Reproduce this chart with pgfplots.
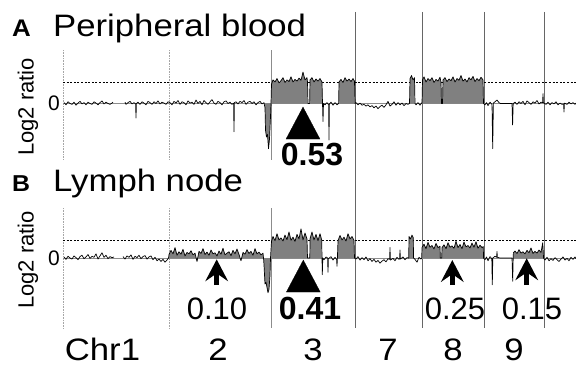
\documentclass[border=0pt]{standalone}
\usepackage{pgfplots}
\pgfplotsset{compat=1.18}
\usepackage{pgfplotstable}
\usepackage{graphicx}
\usepackage{fontspec}
\setmainfont{Liberation Sans}
\usetikzlibrary{arrows.meta}

% Panel A trace (x = genome position in plot units, y = log2 ratio)
\pgfplotstableread{
x y
64 0.02
66 -0.03
68 0.04
70 0.00
72 -0.02
74 0.03
76 -0.04
78 0.01
80 0.05
82 -0.01
84 0.02
86 -0.03
88 0.03
90 0.00
92 -0.02
94 0.04
96 0.01
98 -0.03
100 0.02
102 0.06
104 -0.01
106 0.03
108 0.00
110 -0.02
112 0.01
113 0.03
118 nan
125 0.03
126 -0.02
128 0.02
130 0.05
132 -0.01
134 0.02
135.6 -0.01
136 -0.34
136.4 0.00
138 0.03
140 -0.02
142 0.04
144 0.01
146 -0.03
148 0.05
150 0.02
152 -0.02
154 0.04
156 0.00
158 0.06
160 -0.01
162 0.03
164 0.01
166 -0.02
168 0.04
170 0.02
172 -0.03
174 0.05
176 0.01
178 0.07
180 -0.02
182 0.04
184 0.02
186 -0.03
188 0.06
190 0.01
192 0.03
194 -0.02
196 0.08
198 0.00
200 0.05
202 -0.03
204 0.07
206 0.02
208 -0.02
210 0.04
212 0.09
214 0.01
216 -0.02
218 0.05
220 0.02
222 -0.03
224 0.04
226 0.06
228 0.00
230 0.03
232 -0.02
233.6 0.01
234 -0.66
234.4 0.02
236 0.04
238 -0.01
240 0.05
242 0.02
244 0.07
246 -0.02
248 0.03
250 0.05
252 0.00
254 0.04
256 -0.03
258 0.02
260 0.05
262 -0.01
264 0.02
265 -0.10
265.5 -0.62
266.5 -0.78
267.5 -0.72
268.5 -1.05
269.5 -0.83
270.5 -0.30
271 0.00
271.5 0.45
273 0.55
275 0.50
277 0.58
279 0.48
281 0.53
283 0.60
285 0.49
287 0.55
289 0.51
291 0.62
293 0.50
295 0.56
297 0.52
299 0.59
301 0.54
303 0.73
305 0.55
307 0.60
307.5 0.50
308 0.00
309.6 0.00
310 0.55
312 0.60
314 0.50
316 0.57
318 0.52
320 0.58
322 0.50
322.5 0.00
323 -0.42
323.5 0.00
325 -0.03
327 0.02
328.6 -0.03
329 -0.85
329.4 -0.01
331 0.03
333 -0.04
335 0.02
337 -0.03
338.6 0.00
339 0.50
341 0.56
343 0.49
345 0.60
347 0.52
349 0.57
351 0.51
353 0.58
354.5 0.52
355 0.00
356 0.02
358 -0.03
360 0.01
362 -0.04
364 -0.02
366 -0.06
368 -0.03
370 -0.08
372 -0.05
374 -0.10
376 -0.06
378 -0.12
380 -0.07
382 -0.04
384 -0.09
386 -0.03
388 0.05
390 -0.06
392 -0.02
394 0.04
396 -0.04
398 0.02
400 -0.03
402 0.01
404 -0.05
406 0.00
408 -0.02
409.5 0.00
410 0.58
411.5 0.65
413 0.55
414.5 0.60
415 0.00
416 -0.03
418 0.02
420 -0.04
421.5 0.01
422 0.00
422.5 0.55
424 0.62
426 0.50
428 0.58
430 0.53
432 0.60
434 0.49
436 0.56
438 0.52
440 0.61
441 0.50
441.5 0.00
442.5 0.00
443 0.55
445 0.60
447 0.51
449 0.57
451 0.53
453 0.62
455 0.50
457 0.58
459 0.54
461 0.65
463 0.52
465 0.57
467 0.50
469 0.60
471 0.55
473 0.63
475 0.51
477 0.58
479 0.53
481 0.61
483 0.55
483.5 0.00
485 -0.03
486.5 0.02
488 -0.05
490 0.03
492 -0.02
492.7 -1.05
493.4 0.01
495 0.04
497 0.08
499 0.02
500.5 0.00
512 0.00
512.6 -0.50
513.2 0.00
515 0.03
517 -0.02
519 0.04
521 0.00
523 0.05
525 -0.03
527 0.06
529 0.02
531 -0.02
533 0.04
535 0.01
537 0.07
539 -0.01
541 0.03
542.6 0.02
543 0.23
543.4 0.02
546 -0.02
548 0.03
550 -0.03
552 0.02
554 -0.01
556 0.04
558 -0.03
560 0.01
562 -0.02
563.6 -0.01
564 -0.20
564.4 0.01
567 -0.02
569 0.03
571 -0.01
573 0.02
575 -0.02
576 0.01
}\dataA

% Panel B trace
\pgfplotstableread{
x y
64 0.03
66 -0.04
68 0.05
70 0.00
72 -0.03
74 0.06
76 0.01
78 -0.05
80 0.04
82 0.08
84 -0.02
86 0.03
88 0.10
90 -0.01
92 0.05
94 0.02
96 0.12
98 -0.03
100 0.06
102 0.15
104 0.02
106 0.08
108 -0.02
110 0.04
112 0.01
114 0.03
118 nan
123 0.04
125 -0.03
127 0.06
129 0.02
131 0.09
133 -0.04
135 0.05
137 0.01
139 0.08
141 -0.02
143 0.04
145 0.07
147 -0.03
149 0.03
151 0.06
153 -0.05
155 0.02
157 -0.08
159 -0.03
161 -0.10
163 -0.04
165 -0.12
167 -0.06
168.5 0.00
169 0.10
171 0.22
173 0.12
175 0.30
177 0.08
179 0.18
181 0.11
183 0.25
185 0.06
187 0.16
189 0.12
191 0.21
193 0.09
195 0.14
197 -0.10
199 0.19
201 0.13
203 0.27
205 0.10
207 0.17
209 0.08
211 0.23
213 0.12
215 0.15
217 0.06
219 0.20
221 0.11
223 0.28
225 0.09
227 0.14
229 0.18
231 0.07
233 0.22
235 0.12
237 0.26
239 0.10
241 -0.08
243 0.16
245 0.11
247 0.24
249 0.13
251 0.19
253 0.08
255 0.27
257 0.12
259 0.17
261 0.09
263 0.14
263.5 0.00
264 -0.20
265 -0.75
266 -0.70
267 -0.85
268 -1.00
269 -0.90
270 -0.50
270.5 0.00
271.5 0.48
273 0.62
275 0.50
277 0.70
279 0.52
281 0.58
283 0.49
285 0.66
287 0.53
289 0.75
291 0.51
293 0.60
295 0.48
297 0.68
299 0.55
301 0.84
303 0.52
305 0.72
307 0.55
307.5 0.00
309.8 0.00
310 0.55
312 0.75
314 0.52
316 0.68
318 0.50
320 0.70
321.7 0.52
322 0.00
322.3 -0.48
322.8 0.00
324 -0.05
326 0.03
327.6 0.00
328 -0.41
328.4 -0.02
331 0.04
333 -0.06
335 0.02
336.6 -0.04
337 -0.24
337.4 0.00
338 0.50
340 0.65
342 0.52
344 0.60
346 0.49
348 0.70
350 0.55
352 0.62
354 0.51
354.5 0.00
356 -0.03
358 0.04
360 -0.06
362 0.01
364 -0.05
366 0.03
368 -0.08
370 -0.02
372 -0.10
374 -0.04
376 -0.12
378 -0.07
380 -0.15
382 -0.09
384 -0.05
386 -0.11
388 -0.02
389.6 -0.04
390 0.30
390.4 -0.06
393 -0.01
395 -0.08
397 0.02
399 -0.04
399.6 -0.02
400 0.23
400.4 -0.03
403 0.03
405 -0.05
407 0.01
408.7 0.00
409 0.62
410.5 0.55
412 0.66
413.3 0.58
413.5 0.00
415 -0.04
417 -0.12
419 0.02
421 -0.03
421.7 0.00
422 0.30
424 0.40
426 0.27
428 0.45
430 0.31
432 0.36
434 0.26
436 0.42
438 0.30
440 0.34
440.3 0.00
441.7 0.00
442 0.30
444 0.38
446 0.27
448 0.44
450 0.31
452 0.35
454 0.28
456 0.48
458 0.30
460 0.39
462 0.27
464 0.46
466 0.32
468 0.36
470 0.29
472 0.43
474 0.31
476 0.47
478 0.28
480 0.37
482 0.30
483.3 0.33
483.5 0.00
485 -0.05
486.5 0.03
488 -0.08
490 0.04
491.8 -0.02
492.3 -0.77
492.8 0.00
495 0.05
496.6 0.02
497 0.19
497.4 0.02
500 0.00
512 0.00
512.7 -0.67
513.2 0.00
513.4 0.15
515 0.20
517 0.13
519 0.24
521 0.14
523 0.18
525 0.12
527 0.22
529 0.15
531 0.29
533 0.13
535 0.19
537 0.14
539 0.23
541 0.16
542.7 0.44
543.3 0.15
543.5 0.00
545 -0.06
547 0.02
549 -0.08
551 -0.02
553 -0.07
555 0.01
557 -0.05
559 -0.10
561 -0.03
563 0.03
565 -0.06
567 -0.01
569 -0.08
571 0.02
573 -0.04
575 0.03
576 -0.02
}\dataB

\definecolor{gainfill}{gray}{0.50}
\definecolor{sepline}{gray}{0.40}

\pgfplotsset{
  panel/.style={
    x=1pt, xmin=63, xmax=576, enlargelimits=false, clip=false,
    hide x axis, axis y line*=left, y axis line style={draw=none},
    ytick={0}, yticklabels={0}, major tick length=0pt,
    yticklabel style={font=\fontsize{21}{21}\selectfont, inner sep=0pt, anchor=east, xshift=-3pt},
    unbounded coords=jump,
  },
  gain/.style={fill=gainfill, draw=none, unbounded coords=discard},
  trace/.style={black, line width=0.7pt, line join=round, mark=none},
}

\begin{document}
\begin{tikzpicture}
\useasboundingbox (0pt,0pt) rectangle (576pt,365pt);

%================ Panel A =================
\begin{axis}[panel, at={(63pt,203.45pt)}, anchor=south west,
  y=43pt, ymin=-1.35, ymax=2.2]
% chromosome separators
\addplot[black!35, densely dotted, line width=0.6pt] coordinates {(63.5,1.244) (63.5,-1.314)};
\addplot[black!35, densely dotted, line width=0.6pt] coordinates {(169,1.244) (169,-1.314)};
\addplot[black!45, line width=0.5pt] coordinates {(271,1.244) (271,-1.314)};
\addplot[sepline, line width=0.55pt] coordinates {(355,2.128) (355,-5.221)};
\addplot[sepline, line width=0.55pt] coordinates {(422,2.128) (422,-5.221)};
\addplot[sepline, line width=0.55pt] coordinates {(484,2.128) (484,-5.221)};
\addplot[sepline, line width=0.55pt] coordinates {(544,2.128) (544,-5.221)};
% reference lines
\addplot[black!45, line width=0.4pt] coordinates {(63,0) (576,0)};
\addplot[black, line width=0.5pt, dash pattern=on 2pt off 1.6pt] coordinates {(63,0.5) (576,0.5)};
% shaded segments
\addplot[gain, restrict x to domain=264.8:271.1] table {\dataA} \closedcycle;
\addplot[gain, restrict x to domain=271.2:307.6] table {\dataA} \closedcycle;
\addplot[gain, restrict x to domain=309.8:322.6] table {\dataA} \closedcycle;
\addplot[gain, restrict x to domain=338.8:354.6] table {\dataA} \closedcycle;
\addplot[gain, restrict x to domain=409.8:414.6] table {\dataA} \closedcycle;
\addplot[gain, restrict x to domain=422.2:441.2] table {\dataA} \closedcycle;
\addplot[gain, restrict x to domain=442.8:483.2] table {\dataA} \closedcycle;
% trace
\addplot[trace] table {\dataA};
% marker
\addplot[only marks, mark=triangle*, mark size=19.6pt,
  mark options={yscale=1.09, fill=black, draw=black, line width=0.2pt}]
  coordinates {(303,-0.578)};
\end{axis}

%================ Panel B =================
\begin{axis}[panel, at={(63pt,35.865pt)}, anchor=south west,
  y=34.7pt, ymin=-2.05, ymax=1.45]
\addplot[black!35, densely dotted, line width=0.6pt] coordinates {(63.5,1.44) (63.5,-2.02)};
\addplot[black!35, densely dotted, line width=0.6pt] coordinates {(169,1.44) (169,-2.02)};
\addplot[black!45, line width=0.5pt] coordinates {(271,1.44) (271,-2.02)};
\addplot[black!45, line width=0.4pt] coordinates {(63,0) (576,0)};
\addplot[black, line width=0.5pt, dash pattern=on 2pt off 1.6pt] coordinates {(63,0.5) (576,0.5)};
\addplot[gain, restrict x to domain=168.8:263.2] table {\dataB} \closedcycle;
\addplot[gain, restrict x to domain=263.8:270.6] table {\dataB} \closedcycle;
\addplot[gain, restrict x to domain=271.2:307.2] table {\dataB} \closedcycle;
\addplot[gain, restrict x to domain=309.9:321.8] table {\dataB} \closedcycle;
\addplot[gain, restrict x to domain=337.8:354.2] table {\dataB} \closedcycle;
\addplot[gain, restrict x to domain=408.8:413.4] table {\dataB} \closedcycle;
\addplot[gain, restrict x to domain=421.8:440.1] table {\dataB} \closedcycle;
\addplot[gain, restrict x to domain=441.8:483.4] table {\dataB} \closedcycle;
\addplot[gain, restrict x to domain=513.3:543.4] table {\dataB} \closedcycle;
\addplot[trace] table {\dataB};
\addplot[only marks, mark=triangle*, mark size=19.6pt,
  mark options={yscale=1.09, fill=black, draw=black, line width=0.2pt}]
  coordinates {(303.3,-0.673)};
\addplot[black, line width=4.5pt,
  -{Stealth[length=22pt, width=23pt, inset=8pt, line width=0pt]},
  quiver={u=\thisrow{u}, v=\thisrow{v}}] table {
x y u v
216.7 -0.78 0 0.74
452.3 -0.78 0 0.72
526.7 -0.78 0 0.77
};
\end{axis}

%================ Text =================
\node[anchor=base west, inner sep=0pt, font=\fontsize{24}{24}\selectfont\bfseries] at (12pt,328pt) {\scalebox{1.08}[1]{A}};
\node[anchor=base west, inner sep=0pt, font=\fontsize{31}{31}\selectfont] at (53pt,328pt) {\scalebox{1.12}[1]{Peripheral blood}};
\node[anchor=base west, inner sep=0pt, font=\fontsize{23}{23}\selectfont\bfseries] at (12pt,174pt) {\scalebox{1.08}[1]{B}};
\node[anchor=base west, inner sep=0pt, font=\fontsize{31}{31}\selectfont] at (53pt,174pt) {\scalebox{1.12}[1]{Lymph node}};

\node[rotate=90, inner sep=0pt, font=\fontsize{22}{22}\selectfont] at (28pt,258pt) {Log2 ratio};
\node[rotate=90, inner sep=0pt, font=\fontsize{22}{22}\selectfont] at (28pt,105pt) {Log2 ratio};

\node[anchor=base, inner sep=0pt, font=\fontsize{32}{32}\selectfont\bfseries] at (312pt,200pt) {0.53};
\node[anchor=base, inner sep=0pt, font=\fontsize{32}{32}\selectfont\bfseries] at (310pt,46pt) {0.41};
\node[anchor=base, inner sep=0pt, font=\fontsize{31}{31}\selectfont] at (217pt,46pt) {0.10};
\node[anchor=base, inner sep=0pt, font=\fontsize{31}{31}\selectfont] at (455pt,46pt) {0.25};
\node[anchor=base, inner sep=0pt, font=\fontsize{31}{31}\selectfont] at (532pt,46pt) {0.15};

\foreach \xx/\tt in {102.5/Chr1, 218/2, 313/3, 388/7, 453/8, 514/9}
  \node[anchor=base, inner sep=0pt, font=\fontsize{31}{31}\selectfont] at (\xx pt,5pt) {\scalebox{1.12}[1]{\tt}};
\end{tikzpicture}
\end{document}
